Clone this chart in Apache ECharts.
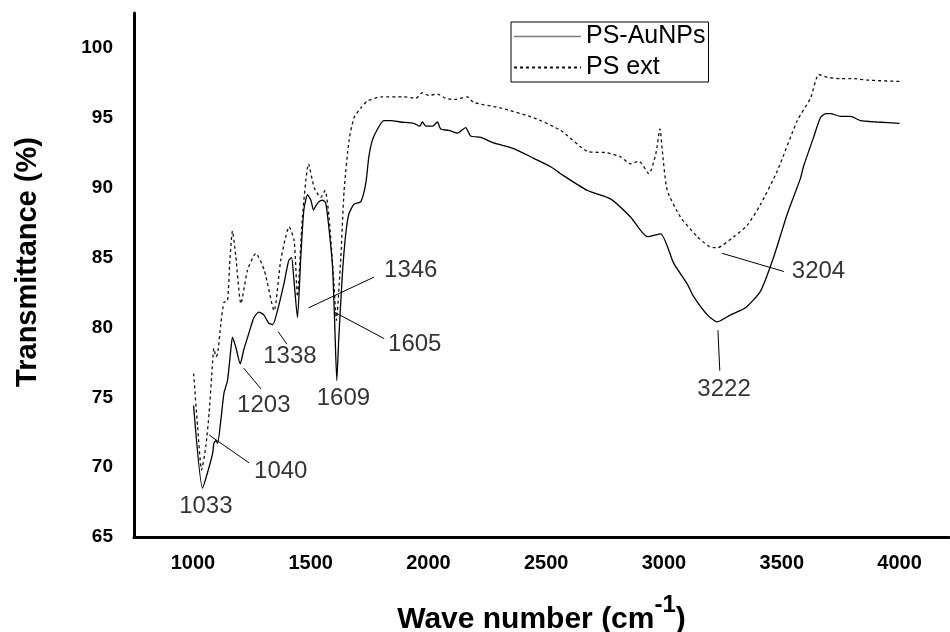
<!DOCTYPE html>
<html>
<head>
<meta charset="utf-8">
<script src="https://cdn.jsdelivr.net/npm/echarts@6/dist/echarts.min.js"></script>
<style>
  html, body { margin: 0; padding: 0; background: #fff; }
  #ftir { width: 950px; height: 632px; }
</style>
</head>
<body>
<div id="ftir"></div>
<script>
// PS-AuNPs (solid) : wave number / transmittance
var auWave = [1003, 1041, 1062, 1084, 1089, 1098, 1105, 1119, 1132, 1147, 1161, 1168, 1182, 1201, 1216, 1238, 1259, 1280, 1301, 1322,
  1339, 1359, 1386, 1407, 1419, 1428, 1444, 1458, 1471, 1487, 1501, 1512, 1522, 1535, 1550, 1564, 1577, 1593, 1602, 1611,
  1619, 1635, 1649, 1662, 1683, 1713, 1734, 1747, 1762, 1784, 1810, 1840, 1882, 1938, 1963, 1975, 1989, 2018, 2038, 2052,
  2086, 2123, 2158, 2179, 2222, 2277, 2362, 2447, 2519, 2561, 2675, 2773, 2858, 2929, 2986, 3041, 3099, 3126, 3184, 3226,
  3283, 3346, 3410, 3465, 3523, 3580, 3592, 3635, 3664, 3686, 3707, 3749, 3792, 3834, 3905, 4000];
var auTrans = [74.4, 68.5, 69.6, 71.0, 71.7, 71.9, 71.7, 73.4, 75.3, 76.2, 78.4, 79.3, 78.6, 77.4, 78.4, 79.6, 80.7, 81.1, 80.9, 80.3,
  80.2, 81.2, 83.1, 84.8, 85.0, 83.6, 80.7, 85.0, 88.4, 89.5, 89.1, 88.4, 88.7, 89.0, 89.1, 88.9, 87.2, 84.3, 80.3, 76.2,
  79.1, 83.9, 86.7, 88.1, 88.8, 89.0, 90.3, 92.2, 93.4, 94.2, 94.8, 94.8, 94.7, 94.6, 94.4, 94.7, 94.4, 94.4, 94.7, 94.2,
  94.1, 93.9, 94.3, 93.7, 93.6, 93.2, 92.8, 92.1, 91.5, 91.0, 89.8, 89.2, 87.9, 86.5, 86.7, 84.6, 83.1, 82.2, 80.9, 80.4,
  80.9, 81.4, 82.6, 85.0, 88.1, 90.7, 91.5, 93.6, 95.0, 95.3, 95.3, 95.1, 95.1, 94.8, 94.7, 94.6];

// PS ext (dashed)
var extWave = [1003, 1020, 1037, 1055, 1069, 1084, 1089, 1098, 1105, 1119, 1132, 1147, 1157, 1168, 1182, 1204, 1232, 1267, 1303, 1345,
  1373, 1409, 1430, 1444, 1465, 1491, 1515, 1543, 1561, 1578, 1599, 1609, 1628, 1642, 1663, 1684, 1713, 1741, 1798, 1895,
  1946, 1975, 2001, 2038, 2073, 2107, 2165, 2192, 2307, 2447, 2561, 2675, 2759, 2816, 2858, 2894, 2936, 2965, 2983, 2993,
  3014, 3070, 3141, 3191, 3226, 3297, 3353, 3410, 3481, 3566, 3622, 3657, 3693, 3749, 3806, 3862, 4000];
var extTrans = [76.7, 72.9, 69.8, 71.5, 73.9, 77.6, 78.5, 77.9, 78.1, 80.3, 81.8, 81.9, 84.8, 86.9, 85.1, 81.7, 84.1, 85.3, 84.1, 81.2,
  84.8, 87.2, 86.2, 82.2, 87.9, 91.7, 90.0, 89.3, 89.8, 87.9, 83.1, 80.5, 85.0, 89.8, 93.4, 95.0, 95.7, 96.2, 96.5, 96.5,
  96.4, 96.8, 96.6, 96.7, 96.4, 96.3, 96.5, 96.1, 95.7, 95.0, 94.1, 92.6, 92.5, 92.2, 91.7, 91.9, 91.0, 92.4, 94.2, 92.6,
  89.8, 87.9, 86.5, 85.8, 85.7, 86.5, 87.3, 88.8, 91.2, 94.8, 96.4, 98.1, 97.9, 97.8, 97.8, 97.7, 97.6];

// peak annotations: text, label position, leader line (from, to) in data units
var peakText = ['1346', '1605', '1338', '1203', '1609', '1040', '1033', '3204', '3222'];
var peakLabelAt = [[1925, 84.1], [1942, 78.8], [1412, 77.9], [1301, 74.4], [1639, 74.9], [1373, 69.7], [1055, 67.2], [3656, 84.0], [3255, 75.6]];
var peakLines = [
  [[1491, 81.4], [1769, 83.6]],
  [[1600, 81.1], [1812, 79.2]],
  [[1362, 79.7], [1399, 78.8]],
  [[1215, 77.1], [1289, 75.6]],
  [[1069, 72.3], [1239, 70.3]],
  [[3247, 85.3], [3509, 84.0]],
  [[3229, 79.8], [3237, 76.9]]
];

var font = 'Liberation Sans, Arial, sans-serif';

function pairs(xs, ys) {
  return xs.map(function (x, i) { return [x, ys[i]]; });
}

var chart = echarts.init(document.getElementById('ftir'));
var option = {
  animation: false,
  backgroundColor: '#fff',
  grid: { left: 134, right: 1, top: 13, bottom: 95, outerBoundsMode: 'none' },
  legend: {
    orient: 'vertical',
    left: 511,
    top: 22,
    padding: [2, 3, 2, 2],
    itemGap: 6,
    itemWidth: 67,
    itemHeight: 12,
    borderColor: '#000',
    borderWidth: 1,
    borderRadius: 0,
    itemStyle: { opacity: 0 },
    textStyle: { fontFamily: font, fontSize: 25, color: '#000' },
    data: [
      { name: 'PS-AuNPs', lineStyle: { color: '#7a7a7a', width: 1.5 } },
      { name: 'PS ext' }
    ]
  },
  xAxis: {
    type: 'value',
    min: 750,
    max: 4210,
    interval: 250,
    axisLine: { lineStyle: { color: '#000', width: 3 } },
    axisTick: { show: false },
    splitLine: { show: false },
    axisLabel: {
      margin: 16,
      fontFamily: font, fontSize: 20, fontWeight: 'bold', color: '#000',
      formatter: function (v) { return (v % 500 === 0 && v >= 1000 && v <= 4000) ? String(v) : ''; }
    },
    name: '{a|Wave number (cm}{b|-1}{a|)}',
    nameLocation: 'middle',
    nameGap: 56,
    nameTextStyle: {
      rich: {
        a: { fontFamily: font, fontSize: 30, fontWeight: 'bold', color: '#000', lineHeight: 42, verticalAlign: 'bottom' },
        b: { fontFamily: font, fontSize: 24, fontWeight: 'bold', color: '#000', verticalAlign: 'top' }
      }
    }
  },
  yAxis: {
    type: 'value',
    min: 65,
    max: 102.5,
    interval: 5,
    axisLine: { show: true, lineStyle: { color: '#000', width: 3 } },
    axisTick: { show: false },
    splitLine: { show: false },
    axisLabel: {
      margin: 21,
      fontFamily: font, fontSize: 19, fontWeight: 'bold', color: '#000',
      formatter: function (v) { return v % 5 === 0 ? String(v) : ''; }
    },
    name: 'Transmittance (%)',
    nameLocation: 'middle',
    nameGap: 92,
    nameRotate: 90,
    nameTextStyle: { fontFamily: font, fontSize: 29, fontWeight: 'bold', color: '#000', padding: [0, 0, 0, 26] }
  },
  series: [
    {
      name: 'PS-AuNPs',
      type: 'line',
      data: pairs(auWave, auTrans),
      symbol: 'none',
      smooth: 0.2,
      itemStyle: { color: '#000' },
      lineStyle: { color: '#000', width: 1.3 }
    },
    {
      name: 'PS ext',
      type: 'line',
      data: pairs(extWave, extTrans),
      symbol: 'none',
      smooth: 0.2,
      itemStyle: { color: '#000' },
      lineStyle: { color: '#111', width: 1.3, type: [3, 3] }
    },
    {
      name: 'leaders',
      type: 'lines',
      coordinateSystem: 'cartesian2d',
      silent: true,
      lineStyle: { color: '#000', width: 1, opacity: 1 },
      data: peakLines.map(function (l) { return { coords: l }; })
    },
    {
      name: 'peaks',
      type: 'scatter',
      symbolSize: 0,
      silent: true,
      data: peakLabelAt.map(function (p, i) { return { value: p, name: peakText[i] }; }),
      label: {
        show: true,
        position: 'inside',
        formatter: '{b}',
        fontFamily: font,
        fontSize: 24,
        color: '#000'
      }
    }
  ]
};
chart.setOption(option);
</script>
</body>
</html>
